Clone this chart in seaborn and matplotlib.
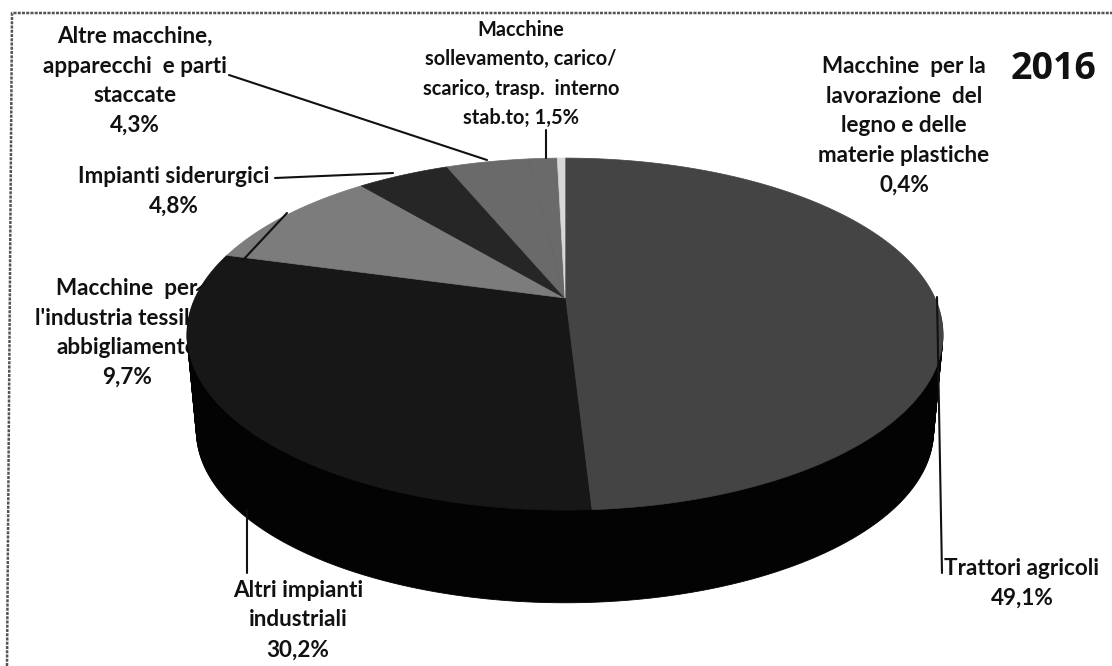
import numpy as np
import matplotlib
matplotlib.use("Agg")
import matplotlib.pyplot as plt
import seaborn as sns
from matplotlib.path import Path
from matplotlib.transforms import Transform, Affine2D

categories = ["Trattori agricoli", "Altri impianti industriali",
              "Macchine per l'industria tessile e abbigliamento",
              "Impianti siderurgici", "Altre macchine, apparecchi e parti staccate",
              "Macchine sollevamento, carico/scarico, trasp. interno stab.to",
              "Macchine per la lavorazione del legno e delle materie plastiche"]
values = [49.1, 30.2, 9.7, 4.8, 4.3, 1.5, 0.4]
face_colors = ["#444444", "#171717", "#7c7c7c", "#262626", "#6a6a6a", "#6a6a6a", "#d8d8d8"]
year_label = "2016"

sns.set_theme(style="white")
plt.rcParams["font.family"] = ["Lato", "DejaVu Sans"]


class Tilt(Transform):
    """Perspective view of the unit pie disc, in pixel coordinates."""
    input_dims = output_dims = 2
    is_separable = False
    has_inverse = False

    def __init__(self, cx, cy, rx, ry, k):
        super().__init__()
        self.p = (cx, cy, rx, ry, k)

    def transform_non_affine(self, xy):
        cx, cy, rx, ry, k = self.p
        xy = np.asarray(xy, float)
        d = 1 + k * xy[:, 1]
        return np.column_stack([cx + rx * xy[:, 0] / d, cy - ry * xy[:, 1] / d])

    def transform_path_non_affine(self, path):
        big = path.transformed(Affine2D().scale(2000))
        polys = big.to_polygons(closed_only=True)
        verts = np.vstack(polys) / 2000
        codes = []
        for poly in polys:
            codes += [Path.MOVETO] + [Path.LINETO] * (len(poly) - 2) + [Path.CLOSEPOLY]
        return Path(self.transform_non_affine(verts), codes)


fig = plt.figure(figsize=(11.12, 6.66), dpi=100, facecolor="white")
ax = fig.add_axes([0, 0, 1, 1])

CX, CY, RX, RY, K = 565, 298, 370, 168.6, 0.205
DEPTH, SHRINK = 98, 0.025

# side wall: stacked copies of the same pie, in black
for h in np.linspace(1, 0, 70)[:-1]:
    tilt = Tilt(CX, CY + DEPTH * h, RX * (1 - SHRINK * h), RY * (1 - SHRINK * h), K)
    wedges, _ = ax.pie(values, startangle=90, counterclock=False,
                       colors=["#030303"] * len(values))
    for w in wedges:
        w.set_transform(tilt + ax.transData)
        w.set_edgecolor("#030303")
        w.set_linewidth(0.6)
        w.set_zorder(3)

# top face
wedges, _ = ax.pie(values, startangle=90, counterclock=False, colors=face_colors)
tilt = Tilt(CX, CY, RX, RY, K)
for w, c in zip(wedges, face_colors):
    w.set_transform(tilt + ax.transData)
    w.set_edgecolor(c)
    w.set_linewidth(0.5)
    w.set_zorder(4)

ax.set_aspect("auto")
ax.set_xlim(0, 1112)
ax.set_ylim(666, 0)
ax.axis("off")

# scan-like frame on top and left
ax.plot([7, 12, 1112], [666, 13, 13], color="#555555", lw=1.8, ls=(0, (1.2, 0.5)), zorder=1)

labels = [
    (135, 81, 16.2, 1.515, "Altre macchine,\napparecchi  e parti\nstaccate\n4,3%"),
    (174, 191, 16.2, 1.515, "Impianti siderurgici\n4,8%"),
    (521, 74, 14.4, 1.59, "Macchine\nsollevamento, carico/\nscarico, trasp.  interno\nstab.to; 1,5%"),
    (904, 126, 16.2, 1.515, "Macchine  per la\nlavorazione  del\nlegno e delle\nmaterie plastiche\n0,4%"),
    (127, 333, 16.2, 1.515, "Macchine  per\nl'industria tessile e\nabbigliamento\n9,7%"),
    (298, 620, 16.2, 1.515, "Altri impianti\nindustriali\n30,2%"),
    (1022, 583, 16.2, 1.515, "Trattori agricoli\n49,1%"),
]
for x, y, fs, ls, s in labels:
    ax.text(x, y, s, ha="center", va="center", fontsize=fs, fontweight="bold",
            color="#111111", linespacing=ls, zorder=2)
ax.text(1054, 69, year_label, ha="center", va="center", fontsize=27, fontweight="bold",
        color="#111111", zorder=6, family=["Open Sans", "DejaVu Sans"])

leaders = [
    ([229, 487], [75, 160]),
    ([275, 393], [178, 173]),
    ([546, 546], [130, 158]),
    ([243, 287], [260, 213]),
    ([197, 206], [290, 283]),
    ([937, 942], [297, 573]),
    ([247, 247], [510, 573]),
]
for xs, ys in leaders:
    ax.plot(xs, ys, color="#111111", lw=1.5, zorder=5)

fig.savefig("out.png", dpi=100)
